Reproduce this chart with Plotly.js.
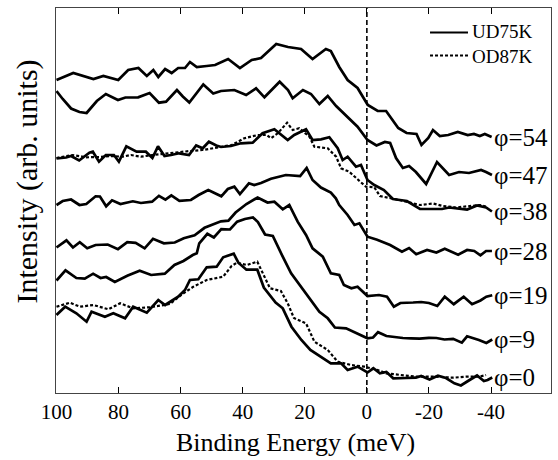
<!DOCTYPE html>
<html>
<head>
<meta charset="utf-8">
<script src="https://cdn.plot.ly/plotly-3.0.1.min.js"></script>
<style>html,body{margin:0;padding:0;background:#fff;}#chart{width:558px;height:460px;}</style>
</head>
<body>
<div id="chart"></div>
<script>
// Binding energy (meV) and intensity (arb. units, offset curves)
var e54 = [100, 94.6, 88.1, 84.9, 80.1, 76.9, 73.6, 70.9, 68.8, 67.2, 65.0, 62.9, 60.8, 58.6, 57.0, 54.8, 51.6, 48.9, 44.7, 40.9, 37.1, 34.1, 29.2, 25.4, 21.2, 17.5, 13.2, 11.6, 8.9, 6.2, 3.0, -0.3, -3.5, -6.2, -10.1, -12.8, -16.0, -17.6, -19.8, -21.3, -23.5, -26.2, -29.3, -32.5, -34.5, -36.4, -38.0, -40.2];
var i54 = [313, 320, 314, 317, 313, 323, 325, 317, 323, 316, 324, 320, 325, 325, 331, 326, 327, 328, 334, 325, 333, 335, 349, 346, 344, 334, 344, 342, 326, 313, 305, 288, 282, 282, 265, 260, 259, 248, 255, 263, 257, 258, 261, 258, 259, 257, 259, 256];

var e47 = [100, 98.0, 95.3, 92.6, 90.3, 87.0, 84.1, 80.2, 77.8, 73.7, 70.0, 67.0, 64.7, 61.2, 59.3, 57.2, 52.7, 49.5, 47.0, 42.7, 38.9, 35.7, 33.0, 28.1, 25.4, 23.9, 20.6, 18.0, 15.3, 12.6, 9.9, 6.2, 3.0, -0.2, -3.1, -5.8, -7.5, -9.4, -11.6, -13.6, -15.8, -19.1, -22.6, -26.5, -29.7, -32.9, -36.8, -38.4, -40.3];
var i47 = [302, 294, 284.5, 281, 280, 292, 299, 293, 295.5, 295.7, 300, 290.3, 291.3, 303, 296.5, 290.5, 308.5, 299.5, 302, 303, 298, 304.7, 295.7, 311.3, 303, 294.7, 303, 299, 289, 297, 287, 276.3, 266.3, 253, 247.5, 251, 250, 235, 225, 227, 221, 209, 231, 218, 221, 220, 223, 221, 218];

var e38 = [100, 96.9, 95.3, 92.7, 89.4, 88.3, 86.3, 84.1, 81.5, 79.9, 77.5, 74.2, 71.2, 69.1, 67.3, 65.2, 63.1, 60.5, 57.3, 55.0, 52.9, 50.9, 48.5, 47.0, 43.8, 40.6, 36.8, 33.6, 29.8, 27.7, 25.5, 23.4, 21.8, 19.6, 17.5, 14.8, 12.1, 9.4, 7.8, 6.2, 3.5, 1.9, -0.2, -2.4, -5.5, -8.4, -12.9, -17.1, -20.3, -24.2, -26.5, -29.7, -32.3, -35.5, -38.4, -40.3];
var i38 = [234.5, 235.5, 237, 232.5, 240.3, 241.3, 231.3, 238, 238, 231.3, 246.7, 241.3, 241.3, 235, 246.7, 237, 238, 239.7, 238, 247.5, 244.7, 251.3, 247.5, 246, 247, 249.7, 250.3, 259.7, 263.7, 258, 253, 258, 260.3, 263.7, 253, 253.7, 255.7, 244.7, 233, 236.3, 226.3, 228, 213, 208, 203, 194, 192, 184, 184, 184, 185.5, 184, 183.5, 187.5, 185.5, 181.5];

var e38od = [100, 96.9, 94.8, 90.5, 86.0, 82.8, 78.7, 76.0, 72.8, 69.2, 64.7, 60.2, 57.0, 52.9, 49.7, 47.0, 43.5, 39.5, 35.2, 32.3, 30.9, 28.7, 25.7, 23.9, 21.8, 18.5, 16.9, 12.6, 9.9, 8.3, 5.7, 3.0, 0.3, -2.4, -4.2, -10.4, -17.1, -21.3, -24.5, -28.7, -32.9, -36.5, -38.4];
var i38od = [235, 237, 238, 235.7, 236, 237, 236.3, 238, 236.3, 238, 239.7, 241, 242, 243, 244.7, 246, 248, 254.7, 258, 258, 254.7, 259.7, 270.3, 263, 264.7, 256.3, 246.3, 244.7, 236.3, 224.7, 221.3, 213.7, 206.3, 205.7, 197, 193, 188, 189.5, 187, 185.5, 187, 188, 186.5];

var e28 = [100, 98.0, 95.3, 92.6, 90.4, 87.4, 86.0, 84.0, 82.1, 79.4, 75.4, 72.8, 69.2, 67.0, 64.9, 63.0, 60.4, 56.7, 54.2, 51.1, 46.9, 44.8, 42.7, 40.9, 38.0, 36.3, 34.1, 30.9, 26.1, 21.5, 19.4, 17.5, 14.8, 11.6, 10.0, 8.9, 6.2, 4.0, 2.4, -0.2, -3.3, -6.2, -7.5, -11.3, -13.6, -15.9, -19.4, -22.4, -25.1, -29.4, -32.3, -34.6, -36.6, -38.4, -40.3];
var i28 = [188, 192, 193.5, 188, 189, 196.7, 196.5, 186.7, 192.7, 189, 191.7, 190, 191.3, 197.2, 193.3, 197.7, 192.2, 193, 198, 203, 196.7, 204, 206.3, 199, 209.7, 208, 210, 214.2, 218, 217, 225, 213, 205.5, 200.5, 194.7, 188, 178, 168, 169.7, 156.3, 153.3, 150, 148, 141.3, 145, 138.8, 143, 140.5, 144.3, 138.3, 143, 142, 137.7, 142, 142];

var e19 = [100, 96.8, 94.7, 92.5, 90.1, 87.4, 83.5, 80.2, 77.2, 74.5, 71.6, 68.9, 65.4, 61.9, 59.0, 55.5, 52.3, 48.6, 47.0, 44.6, 42.3, 38.8, 35.2, 32.0, 29.8, 27.1, 25.0, 22.3, 19.6, 17.5, 14.2, 11.6, 8.9, 7.4, 5.0, 3.0, -0.2, -3.9, -6.5, -8.7, -10.8, -14.9, -17.5, -20.0, -22.7, -25.1, -28.0, -31.2, -33.9, -36.6, -38.5, -40.4];
var i19 = [145.5, 152.7, 145.5, 150.8, 144.7, 148, 148.5, 143.8, 150.8, 150.2, 144.7, 154.2, 149.7, 150.5, 154.7, 157.7, 165.2, 170, 171.7, 172.3, 180.5, 189, 195.5, 190.5, 191.3, 183.7, 188, 171.3, 158, 144.7, 136.3, 119.7, 118, 108, 104.7, 106.3, 97, 98, 96.3, 86.3, 90, 90.5, 91, 90, 87, 96.3, 88.8, 96.3, 88.8, 92.5, 96.3, 97.8];

var e9 = [100, 97.1, 93.6, 90.9, 88.2, 85.8, 84.0, 81.2, 77.2, 73.2, 69.5, 65.1, 62.0, 59.1, 56.1, 54.8, 54.0, 51.4, 49.3, 46.9, 44.1, 41.8, 39.3, 36.7, 35.1, 32.8, 30.3, 28.7, 27.1, 24.4, 21.2, 18.0, 15.3, 12.6, 10.3, 6.7, 4.4, 3.0, -0.2, -2.0, -3.6, -6.3, -9.2, -11.6, -14.3, -17.0, -20.0, -22.4, -25.0, -27.8, -30.6, -32.3, -36.1, -38.5, -40.4];
var i9 = [112.5, 122.7, 115, 114.3, 119.3, 115, 116, 111, 117.2, 122.2, 118, 119.3, 128, 132, 138, 139.7, 149.7, 159.2, 155.5, 163.8, 163.5, 171.3, 174, 175.5, 171, 158.5, 157, 146.3, 136.3, 119.7, 106.3, 93, 81.3, 74.7, 65.5, 64.7, 61.3, 59.7, 54.7, 55.5, 60.8, 57, 55.5, 55, 54.7, 54.3, 55.2, 55, 53.5, 54.2, 50.3, 56.7, 53, 50, 53.5];

var e0 = [100, 97.2, 93.6, 90.3, 88.7, 84.4, 81.7, 77.9, 75.3, 70.9, 67.2, 65.0, 60.8, 58.6, 57.0, 54.3, 51.6, 48.4, 46.3, 42.9, 41.4, 38.8, 35.3, 33.2, 29.4, 27.1, 24.3, 21.1, 18.2, 14.8, 11.6, 8.3, 6.2, 3.0, -0.2, -2.1, -4.2, -6.3, -8.5, -12.7, -15.8, -17.5, -20.2, -22.9, -25.5, -28.2, -30.3, -33.1, -35.5, -37.7, -38.9, -40.4];
var i0 = [78, 86.3, 79.7, 71.3, 81.3, 76.3, 79.7, 74.7, 86.3, 80.3, 93, 88, 96.3, 103, 113, 113.7, 125.7, 126.3, 135.7, 139.3, 130.3, 123.3, 123.3, 105.5, 90.5, 84.7, 66.3, 53, 43, 36.3, 29.7, 29.7, 23, 26.3, 20.5, 24.7, 19.7, 21, 14.7, 15, 15.3, 17, 13.5, 17.2, 15, 9.7, 7.5, 13, 17.5, 12, 13, 15.5];

var e0od = [100, 95.7, 92.4, 88.1, 83.3, 79.5, 75.3, 69.9, 63.5, 59.1, 55.9, 51.6, 46.3, 43.6, 41.9, 38.7, 35.3, 33.1, 31.2, 27.7, 25.5, 23.5, 19.6, 16.9, 12.6, 9.4, 5.1, 0.8, -3.5, -6.2, -10.4, -15.8, -22.3, -27.7, -31.9, -36.2, -38.4];
var i0od = [86.3, 90.3, 86.3, 88, 83.7, 89.7, 84.7, 85.7, 89, 99.7, 106.3, 113, 116.3, 127, 130.3, 128, 131.3, 117, 104.7, 102, 89.7, 75, 69.7, 51.3, 43, 31.3, 28, 26.3, 23, 19.7, 18, 16.3, 16.3, 15.3, 16.3, 16.3, 18];

var labels = ['φ=54', 'φ=47', 'φ=38', 'φ=28', 'φ=19', 'φ=9', 'φ=0'];
var seriesUD = [[e54, i54], [e47, i47], [e38, i38], [e28, i28], [e19, i19], [e9, i9], [e0, i0]];
var seriesOD = [[e38od, i38od], [e0od, i0od]];
var xTicks = [100, 80, 60, 40, 20, 0, -20, -40];
var legendNames = ['UD75K', 'OD87K'];

var FONT = 'Liberation Serif';
var traces = [];
seriesOD.forEach(function (s) {
  traces.push({x: s[0], y: s[1], type: 'scatter', mode: 'lines', showlegend: false,
    line: {color: '#000', width: 2.2, dash: '3px,2px'}, hoverinfo: 'skip'});
});
seriesUD.forEach(function (s) {
  traces.push({x: s[0], y: s[1], type: 'scatter', mode: 'lines', showlegend: false,
    line: {color: '#000', width: 2.7}, hoverinfo: 'skip'});
});

var annotations = seriesUD.map(function (s, k) {
  return {x: s[0][s[0].length - 1], y: s[1][s[1].length - 1], xref: 'x', yref: 'y',
    text: labels[k], showarrow: false, xanchor: 'left', yanchor: 'middle', xshift: 0,
    font: {family: FONT, size: 25, color: '#000'}};
});
// manual legend text (two lines in one box)
annotations.push({x: 0.8364, y: 0.9065, xref: 'paper', yref: 'paper', text: legendNames.join('<br>'), showarrow: false,
  xanchor: 'left', yanchor: 'middle', align: 'left', font: {family: FONT, size: 19, color: '#000'}});
// y title
annotations.push({x: -0.058, y: 0.55, xref: 'paper', yref: 'paper', text: 'Intensity (arb. units)', showarrow: false,
  textangle: -90, xanchor: 'center', yanchor: 'middle', font: {family: FONT, size: 30, color: '#000'}});
// x title
annotations.push({x: 0.483, y: -0.1273, xref: 'paper', yref: 'paper', text: 'Binding Energy (meV)', showarrow: false,
  xanchor: 'center', yanchor: 'middle', font: {family: FONT, size: 26, color: '#000'}});

var shapes = [
  {type: 'line', xref: 'x', yref: 'paper', x0: 0, x1: 0, y0: 0, y1: 1,
   line: {color: '#000', width: 1.6, dash: '5px,3px'}},
  {type: 'line', xref: 'paper', yref: 'paper', x0: 0.7556, x1: 0.8323, y0: 0.9364, y1: 0.9364,
   line: {color: '#000', width: 2.2}},
  {type: 'line', xref: 'paper', yref: 'paper', x0: 0.7556, x1: 0.8323, y0: 0.8766, y1: 0.8766,
   line: {color: '#000', width: 1.8, dash: '3px,2px'}}
];

var layout = {
  width: 558, height: 460,
  margin: {l: 56, r: 7, t: 8, b: 67},
  paper_bgcolor: '#fff', plot_bgcolor: '#fff',
  showlegend: false,
  font: {family: FONT, color: '#000'},
  xaxis: {range: [100.16, -59.33], tickvals: xTicks, ticktext: xTicks.map(String),
    ticks: 'inside', ticklen: 6, tickwidth: 1, tickcolor: '#000',
    showline: true, linecolor: '#444', linewidth: 1, mirror: 'ticks',
    showgrid: false, zeroline: false,
    tickfont: {family: FONT, size: 21, color: '#000'}},
  yaxis: {range: [0, 385], showticklabels: false, ticks: '', showline: true, linecolor: '#444',
    linewidth: 1, mirror: true, showgrid: false, zeroline: false},
  annotations: annotations,
  shapes: shapes
};

Plotly.newPlot('chart', traces, layout, {staticPlot: true, displayModeBar: false});
</script>
</body>
</html>
